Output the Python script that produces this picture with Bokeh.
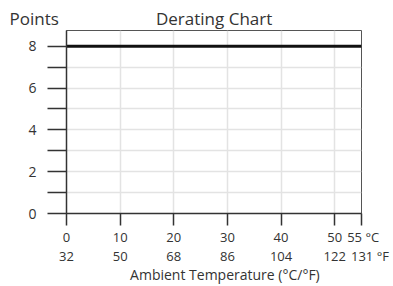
from bokeh.plotting import figure
from bokeh.models import Range1d, LinearAxis, FixedTicker, Grid
from bokeh.embed import file_html
from bokeh.resources import INLINE

# data
temp_c = [0, 55]
points = [8, 8]
c_ticks = [0, 10, 20, 30, 40, 50, 55]
c_labels = ["0", "10", "20", "30", "40", "50", "\u00a055 °C"]
f_labels = ["32", "50", "68", "86", "104", "122", "\u00a0\u00a0\u00a0\u00a0\u00a0131 °F"]
y_major = [0, 2, 4, 6, 8]
y_minor = [1, 3, 5, 7]
title_text = "Derating Chart"
y_title = "Points"
x_title = "\u00a0\u00a0\u00a0\u00a0\u00a0\u00a0Ambient Temperature (°C/°F)"

FONT = "Open Sans"
TXT = "#333333"

p = figure(width=393, height=286, output_backend="svg", toolbar_location=None,
           x_range=Range1d(0, 55), y_range=Range1d(0, 8.75),
           x_axis_location=None, y_axis_location=None,
           min_border_left=66, min_border_right=32, min_border_top=30, min_border_bottom=72)
p.background_fill_color = "white"
p.border_fill_color = "white"
p.outline_line_color = "#555555"
p.outline_line_width = 1

# "Points" (axis caption at top-left) and the chart title share the top strip
p.title.text = y_title + "\u00a0" * 22 + title_text
p.title.align = "left"
p.title.offset = -57
p.title.text_font = FONT
p.title.text_font_style = "normal"
p.title.text_font_size = "17px"
p.title.text_color = TXT
p.title.standoff = 1

# left axis
ya = LinearAxis(ticker=FixedTicker(ticks=y_major, minor_ticks=y_minor))
ya.major_tick_out = 19
ya.major_tick_in = 0
ya.minor_tick_out = 19
ya.minor_tick_in = 0
ya.major_tick_line_color = "#333333"
ya.minor_tick_line_color = "#333333"
ya.major_tick_line_width = 1.5
ya.minor_tick_line_width = 1.5
ya.axis_line_color = "#333333"
ya.axis_line_width = 1.5
ya.major_label_standoff = 11
ya.major_label_text_font = FONT
ya.major_label_text_font_size = "14px"
ya.major_label_text_color = TXT
p.add_layout(ya, "left")

# bottom axis (°C)
xa = LinearAxis(ticker=FixedTicker(ticks=c_ticks, minor_ticks=[]))
xa.major_label_overrides = {t: l for t, l in zip(c_ticks, c_labels)}
xa.major_tick_out = 12
xa.major_tick_in = 0
xa.major_tick_line_color = "#333333"
xa.major_tick_line_width = 1.5
xa.axis_line_color = "#333333"
xa.axis_line_width = 1.5
xa.major_label_standoff = 2
xa.major_label_text_font = FONT
xa.major_label_text_font_size = "13px"
xa.major_label_text_color = TXT
p.add_layout(xa, "below")

# bottom axis (°F)
xf = LinearAxis(ticker=FixedTicker(ticks=c_ticks, minor_ticks=[]))
xf.major_label_overrides = {t: l for t, l in zip(c_ticks, f_labels)}
xf.major_tick_out = 0
xf.major_tick_in = 0
xf.axis_line_color = None
xf.major_tick_line_color = None
xf.major_label_standoff = -2
xf.major_label_text_font = FONT
xf.major_label_text_font_size = "13px"
xf.major_label_text_color = TXT
xf.axis_label = x_title
xf.axis_label_standoff = -3
xf.axis_label_text_font = FONT
xf.axis_label_text_font_style = "normal"
xf.axis_label_text_font_size = "14px"
xf.axis_label_text_color = TXT
p.add_layout(xf, "below")

p.xgrid.visible = False
p.ygrid.visible = False
gx = Grid(dimension=0, ticker=FixedTicker(ticks=[10, 20, 30, 40, 50]), grid_line_color="#e3e3e3", grid_line_width=1.5)
gy = Grid(dimension=1, ticker=FixedTicker(ticks=[1, 2, 3, 4, 5, 6, 7]), grid_line_color="#e3e3e3", grid_line_width=1.5)
p.add_layout(gx)
p.add_layout(gy)

p.line(temp_c, points, line_color="#111111", line_width=3)

open("out.html", "w").write(file_html(p, INLINE))
